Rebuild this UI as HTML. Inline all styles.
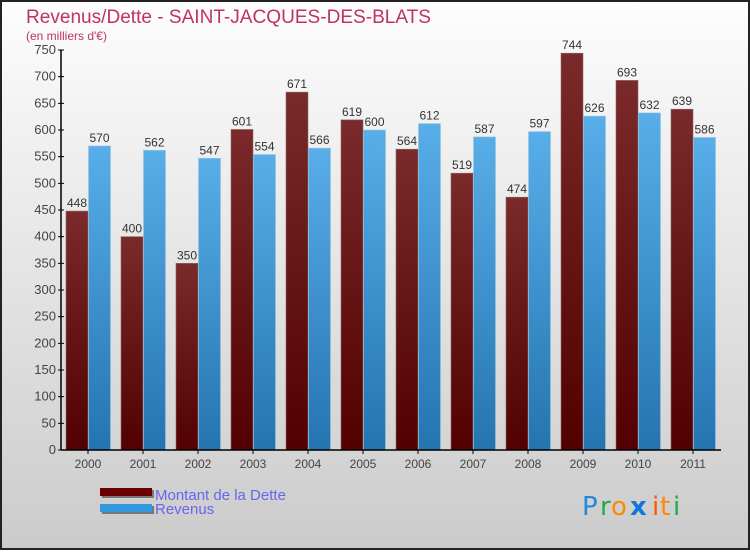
<!DOCTYPE html>
<html><head><meta charset="utf-8"><style>
html,body{margin:0;padding:0;}
body{width:750px;height:550px;overflow:hidden;font-family:"Liberation Sans",sans-serif;}
</style></head><body>
<svg width="750" height="550" xmlns="http://www.w3.org/2000/svg" font-family="'Liberation Sans',sans-serif">
<defs>
<linearGradient id="bg" x1="0" y1="0" x2="0" y2="1"><stop offset="0" stop-color="#fdfdfd"/><stop offset="1" stop-color="#cbcbcb"/></linearGradient>
<linearGradient id="gd" x1="0" y1="0" x2="0" y2="1"><stop offset="0" stop-color="#7a2a2a"/><stop offset="1" stop-color="#520000"/></linearGradient>
<linearGradient id="gr" x1="0" y1="0" x2="0" y2="1"><stop offset="0" stop-color="#58aee8"/><stop offset="1" stop-color="#2474b0"/></linearGradient>
</defs>
<rect x="1" y="1" width="748" height="548" fill="url(#bg)" stroke="#222" stroke-width="2"/>
<text x="26" y="23" font-size="19" fill="#c0306a" textLength="405" lengthAdjust="spacingAndGlyphs">Revenus/Dette - SAINT-JACQUES-DES-BLATS</text>
<text x="26" y="40" font-size="12" fill="#c0306a">(en milliers d'€)</text>
<g id="plot"></g>
<g>
<rect x="102" y="490" width="52" height="8" fill="#777"/><rect x="100" y="488" width="52" height="8" fill="#6a0000"/>
<rect x="102" y="506" width="52" height="8" fill="#777"/><rect x="100" y="504" width="52" height="8" fill="#3399dd"/>
<text x="155" y="500" font-size="15" fill="#6666ee">Montant de la Dette</text>
<text x="155" y="514" font-size="15" fill="#6666ee">Revenus</text>
</g>
<g font-size="26" font-family="'DejaVu Sans',sans-serif">
<text x="582" y="515" fill="#2288dd">P</text><text x="600" y="515" fill="#22aa44">r</text><text x="611" y="515" fill="#ff8800">o</text><text x="630" y="515" fill="#1177dd" font-weight="bold">x</text><text x="652" y="515" fill="#ff5500">i</text><text x="660" y="515" fill="#ff8800">t</text><text x="673" y="515" fill="#22aa44">i</text>
</g>
</svg>
<script>
const years=["2000","2001","2002","2003","2004","2005","2006","2007","2008","2009","2010","2011"];
const dette=[448,400,350,601,671,619,564,519,474,744,693,639];
const revenus=[570,562,547,554,566,600,612,587,597,626,632,586];
const yTicks=[0,50,100,150,200,250,300,350,400,450,500,550,600,650,700,750];
const NS="http://www.w3.org/2000/svg";
const g=document.getElementById('plot');
const x0=61,step=55,y0=450,yMax=750,h=400;
const yS=v=>y0-v/yMax*h;
const xC=i=>x0+step/2+step*i-0.5;
function mk(t,a){const e=document.createElementNS(NS,t);for(const k in a)e.setAttribute(k,a[k]);g.appendChild(e);return e;}
dette.forEach((v,i)=>{
 const c=xC(i);
 let r=mk('rect',{x:c-22,y:yS(v),width:22,height:y0-yS(v),fill:'url(#gd)',stroke:'#8a6a6a','stroke-width':0.6});
 
 
 let t=mk('text',{x:c-11,y:yS(v)-4,'font-size':12,fill:'#333','text-anchor':'middle'});t.textContent=v;
 
 
});
revenus.forEach((v,i)=>{
 const c=xC(i);
 let r=mk('rect',{x:c+0.5,y:yS(v),width:22,height:y0-yS(v),fill:'url(#gr)',stroke:'#9bc4e0','stroke-width':0.6});
 
 
 let t=mk('text',{x:c+11.5,y:yS(v)-4,'font-size':12,fill:'#333','text-anchor':'middle'});t.textContent=v;
 
 
 let yl=mk('text',{x:c,y:468,'font-size':12,fill:'#444','text-anchor':'middle'});yl.textContent=years[i];
 
 
 mk('line',{x1:c,x2:c,y1:y0,y2:y0+4,stroke:'#000'});
});
yTicks.forEach(v=>{
 mk('line',{x1:x0-3,x2:x0+3,y1:yS(v),y2:yS(v),stroke:'#000'});
 let t=mk('text',{x:x0-5,y:yS(v)+4,'font-size':13,fill:'#444','text-anchor':'end'});t.textContent=v;
 
 
});
let ya=mk('line',{x1:x0,x2:x0,y1:yS(750),y2:y0,stroke:'#000','stroke-width':1.5});


let xa=mk('line',{x1:x0,x2:x0+step*12,y1:y0,y2:y0,stroke:'#000','stroke-width':1.5});


</script>
</body></html>
